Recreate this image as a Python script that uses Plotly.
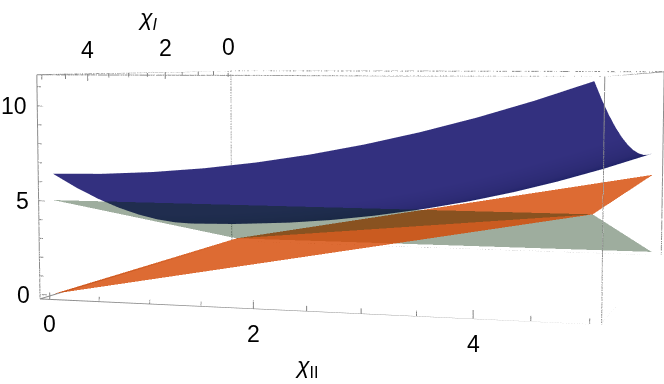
import plotly.graph_objects as go

chi_grid = [0, 0.5, 1, 1.5, 2, 2.5, 3, 3.5, 4, 4.5, 5]
blue_z = [
    [1.40, 1.45, 1.60, 1.85, 2.20, 2.65, 3.20, 3.85, 4.60, 5.45, 6.40],
    [1.45, 1.50, 1.65, 1.90, 2.25, 2.70, 3.25, 3.90, 4.65, 5.50, 6.45],
    [1.60, 1.65, 1.80, 2.05, 2.40, 2.85, 3.40, 4.05, 4.80, 5.65, 6.60],
    [1.85, 1.90, 2.05, 2.30, 2.65, 3.10, 3.65, 4.30, 5.05, 5.90, 6.85],
    [2.20, 2.25, 2.40, 2.65, 3.00, 3.45, 4.00, 4.65, 5.40, 6.25, 7.20],
    [2.65, 2.70, 2.85, 3.10, 3.45, 3.90, 4.45, 5.10, 5.85, 6.70, 7.65],
    [3.20, 3.25, 3.40, 3.65, 4.00, 4.45, 5.00, 5.65, 6.40, 7.25, 8.20],
    [3.85, 3.90, 4.05, 4.30, 4.65, 5.10, 5.65, 6.30, 7.05, 7.90, 8.85],
    [4.60, 4.65, 4.80, 5.05, 5.40, 5.85, 6.40, 7.05, 7.80, 8.65, 9.60],
    [5.45, 5.50, 5.65, 5.90, 6.25, 6.70, 7.25, 7.90, 8.65, 9.50, 10.45],
    [6.40, 6.45, 6.60, 6.85, 7.20, 7.65, 8.20, 8.85, 9.60, 10.45, 11.40],
]
# plane corners: (chi_II, chi_I)
corner_chi_ii = [0, 5, 0, 5]
corner_chi_i = [0, 0, 5, 5]
green_corner_z = [0, 0, 5, 5]
orange_corner_z = [0, 5, 0, 5]

x_range = [-0.1, 5.1]
y_range = [-0.1, 5.1]
z_range = [-0.23, 11.63]

chi_ii_major = [0, 2, 4]
chi_i_major = [0, 2, 4]
z_major = [0, 5, 10]
chi_minor = [0.5, 1, 1.5, 2.5, 3, 3.5, 4.5, 5]
z_minor = [1, 2, 3, 4, 6, 7, 8, 9, 11]

FONT = "Liberation Sans"
GRAY = "#8c8c8c"
TICK = "#808080"
ORANGE = "#d44600"
GREEN = "#002800"
FLAT = dict(ambient=1, diffuse=0, specular=0, fresnel=0, roughness=1)

def flip(v):
    return 5 - v

fig = go.Figure()

fig.add_trace(go.Surface(
    x=chi_grid, y=[flip(v) for v in chi_grid], z=blue_z,
    surfacecolor=[[a] * len(chi_grid) for a in chi_grid], cmin=0, cmax=5,
    showscale=False, hoverinfo="skip", lighting=FLAT,
    colorscale=[[0, "#081350"], [0.08, "#1c2166"], [0.3, "#2b2a72"], [0.6, "#33307f"], [1, "#33307f"]],
))

def tri(zs, idx, color, op):
    fig.add_trace(go.Mesh3d(
        x=corner_chi_ii, y=[flip(v) for v in corner_chi_i], z=zs,
        i=[idx[0]], j=[idx[1]], k=[idx[2]],
        color=color, opacity=op, hoverinfo="skip", lighting=FLAT, flatshading=True,
    ))

FAR_TRI = (0, 1, 3)
NEAR_TRI = (0, 2, 3)
tri(green_corner_z, FAR_TRI, GREEN, 0.38)
tri(orange_corner_z, FAR_TRI, ORANGE, 0.8)
tri(orange_corner_z, NEAR_TRI, ORANGE, 0.8)
tri(green_corner_z, NEAR_TRI, GREEN, 0.38)

# frame
fx, fy, fz = [], [], []
xa, xb = x_range
near, far = y_range
za, zb = z_range
def seg(p, q, X=fx, Y=fy, Z=fz):
    X += [p[0], q[0], None]
    Y += [p[1], q[1], None]
    Z += [p[2], q[2], None]
for y in (near, far):
    for z in (za, zb):
        seg((xa, y, z), (xb, y, z))
for x in (xa, xb):
    for z in (za, zb):
        seg((x, near, z), (x, far, z))
    for y in (near, far):
        seg((x, y, za), (x, y, zb))
fig.add_trace(go.Scatter3d(x=fx, y=fy, z=fz, mode="lines", hoverinfo="skip",
                           line=dict(color=GRAY, width=2), showlegend=False))

# ticks
tx, ty, tz = [], [], []
def t(p, q):
    seg(p, q, tx, ty, tz)
for v in chi_ii_major:
    t((v, near, za), (v, near, za + 0.42))
for v in chi_minor:
    t((v, near, za), (v, near, za + 0.26))
for v in chi_i_major:
    t((xa, flip(v), zb), (xa, flip(v), zb - 0.42))
for v in chi_minor:
    t((xa, flip(v), zb), (xa, flip(v), zb - 0.26))
for v in z_major:
    t((xa, near, v), (xa + 0.07, near, v))
for v in z_minor:
    t((xa, near, v), (xa + 0.04, near, v))
fig.add_trace(go.Scatter3d(x=tx, y=ty, z=tz, mode="lines", hoverinfo="skip",
                           line=dict(color=TICK, width=2), showlegend=False))

anns = []
f = dict(family=FONT, size=23, color="black")
for v in chi_ii_major:
    anns.append(dict(x=v, y=near, z=za, text=str(v), showarrow=False, yshift=-25, font=f))
for v in chi_i_major:
    anns.append(dict(x=xa, y=flip(v), z=zb, text=str(v), showarrow=False, yshift=24, font=f))
for v in z_major:
    anns.append(dict(x=xa, y=near, z=v, text=str(v), showarrow=False, xanchor="right", xshift=-8, font=f))
anns.append(dict(x=2.5, y=near, z=za, text="<i>χ</i><sub>II</sub>", showarrow=False, yshift=-56, font=f))
anns.append(dict(x=xa, y=flip(2.7), z=zb, text="<i>χ<sub>I</sub></i>", showarrow=False, xshift=8, yshift=54, font=f))

hidden = dict(visible=True, showgrid=False, showticklabels=False, showbackground=False,
              zeroline=False, showline=False, ticks="", title="", showspikes=False)

fig.update_layout(
    width=664, height=384, margin=dict(l=0, r=0, t=0, b=0),
    paper_bgcolor="white", showlegend=False, hovermode=False,
    scene=dict(
        domain=dict(x=[0, 1], y=[0, 1]),
        xaxis=dict(hidden, range=x_range),
        yaxis=dict(hidden, range=y_range),
        zaxis=dict(hidden, range=z_range),
        aspectmode="manual", aspectratio=dict(x=1, y=1, z=0.4),
        camera=dict(eye=dict(x=0.844, y=-3.183, z=0.229),
                    center=dict(x=-0.095, y=-0.03, z=-0.035),
                    up=dict(x=0, y=0, z=1)),
        annotations=anns,
    ),
)

post = """
(function(){
  document.body.style.margin = '0';
  var gd = document.getElementById('{plot_id}');
  var FOV = 2*Math.atan(192/1666);
  function go(){
    var s = gd._fullLayout && gd._fullLayout.scene && gd._fullLayout.scene._scene;
    if(!s || !s.glplot){ setTimeout(go, 20); return; }
    var p = s.glplot;
    p.fovy = FOV;
    var gl = p.gl;
    var n = 0;
    var timer = setInterval(function(){
      if(n < 3){
        gl.clearColor(1, 1, 1, 1);
        gl.clear(gl.COLOR_BUFFER_BIT | gl.DEPTH_BUFFER_BIT);
      }
      p.redraw();
      if(++n > 12) clearInterval(timer);
    }, 40);
    p.redraw();
  }
  go();
})();
"""
fig.write_html("out.html", post_script=post, config=dict(displayModeBar=False))
